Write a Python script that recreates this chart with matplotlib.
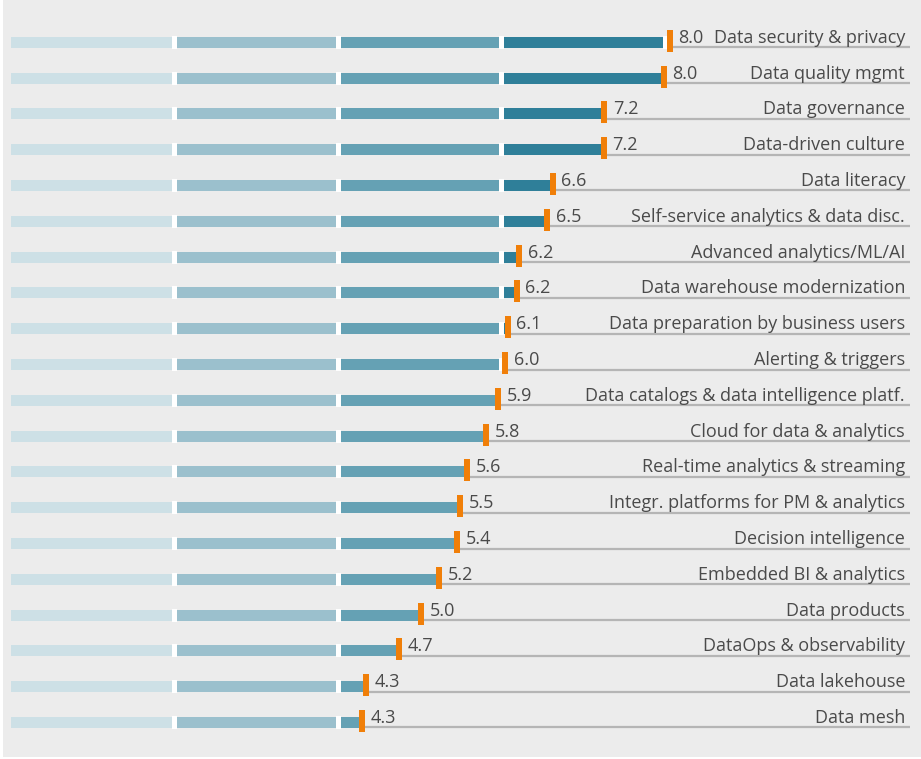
import matplotlib.pyplot as plt
from matplotlib.patches import Rectangle

# Topics and scores (top to bottom)
topics = [
    "Data security & privacy", "Data quality mgmt", "Data governance",
    "Data-driven culture", "Data literacy", "Self-service analytics & data disc.",
    "Advanced analytics/ML/AI", "Data warehouse modernization",
    "Data preparation by business users", "Alerting & triggers",
    "Data catalogs & data intelligence platf.", "Cloud for data & analytics",
    "Real-time analytics & streaming", "Integr. platforms for PM & analytics",
    "Decision intelligence", "Embedded BI & analytics", "Data products",
    "DataOps & observability", "Data lakehouse", "Data mesh",
]
scores = [8.04, 7.97, 7.24, 7.23, 6.61, 6.54, 6.2, 6.17, 6.06, 6.03,
          5.94, 5.79, 5.56, 5.48, 5.44, 5.22, 5.0, 4.73, 4.33, 4.28]
segment_edges = [0, 2, 4, 6, 8]
segment_colors = ["#cde0e6", "#9bc0cd", "#65a1b4", "#2f7f99"]

W, H = 921, 759
PX = 81.75      # pixels per score unit
X0 = 11         # pixel x of score 0
ROW0, ROWH = 42.3, 35.8

fig = plt.figure(figsize=(W / 100, H / 100), dpi=100)
fig.patch.set_facecolor("white")
ax = fig.add_axes([0, 0, 1, 1])
ax.set_facecolor("none")
ax.add_patch(Rectangle((3 / W, 2 / H), 1 - 3 / W, 1 - 2 / H,
                       transform=fig.transFigure, facecolor="#ececec",
                       edgecolor="none", zorder=0))
ax.set_xlim(-X0 / PX, (W - X0) / PX)
ax.set_ylim((H - ROW0) / ROWH, -ROW0 / ROWH)
ax.axis("off")

px_x = 1 / PX
px_y = 1 / ROWH
bar_h = 11 * px_y
rows = list(range(len(topics)))

# segmented bars
for k in range(4):
    lo, hi = segment_edges[k], segment_edges[k + 1]
    widths = [max(0, min(v, hi) - lo) for v in scores]
    ax.barh(rows, widths, left=lo, height=bar_h, color=segment_colors[k],
            zorder=2)

txt = "#4a4a4a"
for i, v in enumerate(scores):
    # white separators between segments
    for b in segment_edges[1:]:
        if v > b:
            ax.add_patch(Rectangle((b - 2.5 * px_x, i - bar_h / 2 - px_y),
                                   5 * px_x, bar_h + 2 * px_y,
                                   facecolor="white", edgecolor="none",
                                   zorder=3))
    # underline
    ax.plot([v, (910 - X0) / PX], [i + bar_h / 2 - 0.5 * px_y] * 2,
            color="#b5b5b5", lw=1.6, solid_capstyle="butt", zorder=1)
    # orange marker
    ax.add_patch(Rectangle((v - 1.5 * px_x, i - bar_h / 2 - 7 * px_y),
                           6 * px_x, 22 * px_y, facecolor="#f07f09",
                           edgecolor="none", zorder=4))
    base = i + bar_h / 2 - 5 * px_y
    ax.text(v + 10 * px_x, base, f"{v:.1f}", ha="left", va="baseline",
            fontsize=13, color=txt, family="Open Sans", zorder=5)
    ax.text((905 - X0) / PX, base, topics[i], ha="right", va="baseline",
            fontsize=13, color=txt, family="Open Sans", zorder=5)

fig.savefig("out.png", dpi=100)
